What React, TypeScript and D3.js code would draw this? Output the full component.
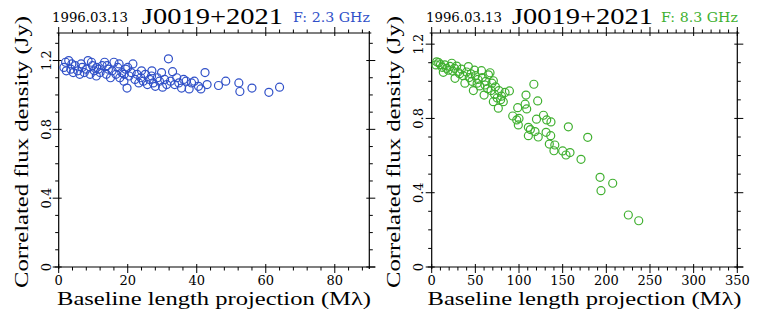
import React from "react";
import * as d3 from "d3";

const leftX = [1.5,2.0,2.2,2.9,3.5,3.8,4.2,4.8,5.5,6.1,6.5,6.8,7.4,8.0,8.5,9.1,9.5,9.8,10.3,10.9,11.0,11.5,12.0,12.6,13.3,13.8,14.0,14.4,15.0,15.5,16.0,16.6,17.1,17.5,17.7,18.3,18.9,19.0,19.4,19.8,20.0,20.4,21.0,21.5,22.1,22.7,23.2,23.8,24.0,24.5,25.1,25.7,26.3,26.9,27.0,27.4,28.0,28.6,29.2,29.8,30.1,30.7,31.3,31.8,32.4,33.0,33.6,34.2,34.8,35.6,36.2,36.9,37.8,38.5,39.3,40.5,41.2,42.4,43.0,46.3,48.4,52.2,52.5,56.0,60.9,64.0];
const leftY = [1.16,1.19,1.14,1.20,1.15,1.18,1.13,1.17,1.14,1.12,1.18,1.16,1.13,1.15,1.20,1.12,1.19,1.17,1.14,1.11,1.16,1.15,1.13,1.17,1.19,1.12,1.17,1.15,1.10,1.14,1.19,1.12,1.16,1.18,1.10,1.13,1.08,1.12,1.15,1.04,1.16,1.11,1.13,1.18,1.09,1.12,1.07,1.10,1.14,1.08,1.12,1.06,1.09,1.11,1.14,1.07,1.05,1.10,1.08,1.13,1.045,1.09,1.06,1.21,1.08,1.135,1.06,1.10,1.07,1.04,1.09,1.08,1.035,1.07,1.08,1.05,1.035,1.13,1.06,1.055,1.08,1.07,1.02,1.04,1.015,1.045];

const rightX = [4.9,5.7,8,10,12,13.3,15,17,19,21,23,24,26,26.7,28.6,30,32,34,36,38,40,42,43,45,46,47.7,49,50,52,53,55,57,58,60,61,62,64,65,66.8,68,69,70.6,70.6,72,73,75,76.3,77,79,80,82,84,89,92.8,97.4,98.5,99.2,100,107,108,108.8,110.7,110.7,113,117,118.3,120,121.4,122,128,131,131.7,134.7,136.3,136.6,140,141,150,153.8,156.5,158.4,171,178.7,192.8,193.9,207.3,225.2,237.1];
const rightY = [1.088,1.105,1.10,1.09,1.075,1.048,1.088,1.07,1.06,1.08,1.097,1.055,1.07,1.016,1.082,1.05,1.04,1.065,1.03,0.99,1.05,1.079,1.02,1.04,1.00,0.95,1.06,1.03,0.99,1.01,0.975,1.057,1.02,0.926,0.98,1.00,0.96,1.035,1.046,0.95,0.99,1.003,0.89,0.93,0.97,0.91,0.855,0.95,0.90,0.92,0.89,0.94,0.948,0.813,0.792,0.858,0.765,0.80,0.877,0.926,0.851,0.752,0.707,0.74,0.984,0.729,0.796,0.894,0.70,0.817,0.725,0.792,0.662,0.707,0.781,0.626,0.657,0.625,0.603,0.755,0.616,0.58,0.698,0.483,0.411,0.451,0.28,0.249];

const leftXTicks = [0, 20, 40, 60, 80];
const rightXTicks = [0, 50, 100, 150, 200, 250, 300, 350];
const yTicks = [0, 0.4, 0.8, 1.2];
const yTickLabels = ["0", "0.4", "0.8", "1.2"];

const DATE = "1996.03.13";
const SOURCE = "J0019+2021";
const leftFreq = "F: 2.3 GHz";
const rightFreq = "F: 8.3 GHz";
const yTitle = "Correlated flux density (Jy)";
const xTitle = "Baseline length projection (M\u03bb)";

const FONT = "'DejaVu Serif', serif";
const TFONT = "'Liberation Serif', serif";

type PanelProps = {
  xs: number[]; ys: number[]; xMax: number; yMax: number; xMinor: number;
  xTicks: number[]; left: number; right: number; color: string; freq: string;
  dateX: number; srcX: number; freqX: number; yTitleX: number; yLabelX: number;
};

function Panel(p: PanelProps) {
  const top = 33, bottom = 267;
  const x = d3.scaleLinear().domain([0, p.xMax]).range([p.left, p.right]);
  const y = d3.scaleLinear().domain([0, p.yMax]).range([bottom, top]);
  const xMinorTicks = d3.range(0, p.xMax + 1e-9, p.xMinor);
  const yMinorTicks = d3.range(0, p.yMax + 1e-9, 0.1);
  const stroke = "#000";
  return (
    <g>
      <line x1={p.left - 4} x2={p.right + 6} y1={bottom} y2={bottom} stroke={stroke} strokeWidth={1.2} />
      <line x1={p.left - 2} x2={p.right + 2} y1={top} y2={top} stroke={stroke} strokeWidth={1.2} />
      <line x1={p.left} x2={p.left} y1={top} y2={bottom + 2} stroke={stroke} strokeWidth={1.2} />
      <line x1={p.right} x2={p.right} y1={top - 2} y2={bottom + 2} stroke={stroke} strokeWidth={1.2} />
      {xMinorTicks.map((t, i) => {
        const major = p.xTicks.some((m) => Math.abs(m - t) < 1e-6);
        const xx = x(t);
        return (
          <g key={"xt" + i}>
            <line x1={xx} x2={xx} y1={major ? bottom - 3 : bottom} y2={bottom + (major ? 6 : 3.5)} stroke={stroke} strokeWidth={1} />
            <line x1={xx} x2={xx} y1={major ? top + 3 : top} y2={top - (major ? 6 : 3.5)} stroke={stroke} strokeWidth={1} />
          </g>
        );
      })}
      {yMinorTicks.map((t, i) => {
        const major = yTicks.some((m) => Math.abs(m - t) < 1e-6);
        const yy = y(t);
        return (
          <g key={"yt" + i}>
            <line x1={major ? p.left + 3 : p.left} x2={p.left - (major ? 6 : 3.5)} y1={yy} y2={yy} stroke={stroke} strokeWidth={1} />
            <line x1={major ? p.right - 3 : p.right} x2={p.right + (major ? 6 : 3.5)} y1={yy} y2={yy} stroke={stroke} strokeWidth={1} />
          </g>
        );
      })}
      {p.xTicks.map((t) => (
        <text key={"xl" + t} x={x(t)} y={285} textAnchor="middle" fontFamily={FONT} fontSize={13}>{t}</text>
      ))}
      {yTicks.map((t, i) => (
        <text key={"yl" + t} transform={`translate(${p.yLabelX},${y(t)}) rotate(-90)`} textAnchor="middle" fontFamily={FONT} fontSize={13}>{yTickLabels[i]}</text>
      ))}
      {p.xs.map((v, i) => (
        <circle key={"pt" + i} cx={x(v)} cy={y(p.ys[i])} r={4} fill="none" stroke={p.color} strokeWidth={1.2} />
      ))}
      <text x={p.dateX} y={22} fontFamily={FONT} fontSize={13} textLength={76} lengthAdjust="spacingAndGlyphs">{DATE}</text>
      <text x={p.srcX} y={24} fontFamily={TFONT} fontSize={23} textLength={141} lengthAdjust="spacingAndGlyphs">{SOURCE}</text>
      <text x={p.freqX} y={22} fontFamily={FONT} fontSize={13} fill={p.color} textLength={77} lengthAdjust="spacingAndGlyphs">{p.freq}</text>
      <text transform={`translate(${p.yTitleX},${(top + bottom) / 2 + 2}) rotate(-90)`} textAnchor="middle" fontFamily={TFONT} fontSize={19} textLength={272} lengthAdjust="spacingAndGlyphs">{yTitle}</text>
      <text x={(p.left + p.right) / 2} y={305} textAnchor="middle" fontFamily={TFONT} fontSize={19} textLength={314} lengthAdjust="spacingAndGlyphs">{xTitle}</text>
    </g>
  );
}

export default function App() {
  return (
    <svg width={768} height={316} style={{ position: "absolute", left: 0, top: 0, background: "#fff" }}>
      <rect width={768} height={316} fill="#fff" />
      <Panel xs={leftX} ys={leftY} xMax={90} yMax={1.36} xMinor={4} xTicks={leftXTicks}
        left={58.7} right={369.3} color="#3050c8" freq={leftFreq}
        dateX={52} srcX={142} freqX={293} yTitleX={28} yLabelX={51} />
      <Panel xs={rightX} ys={rightY} xMax={350} yMax={1.26} xMinor={10} xTicks={rightXTicks}
        left={431.7} right={737.3} color="#40b030" freq={rightFreq}
        dateX={426} srcX={512} freqX={661} yTitleX={400} yLabelX={423} />
    </svg>
  );
}
